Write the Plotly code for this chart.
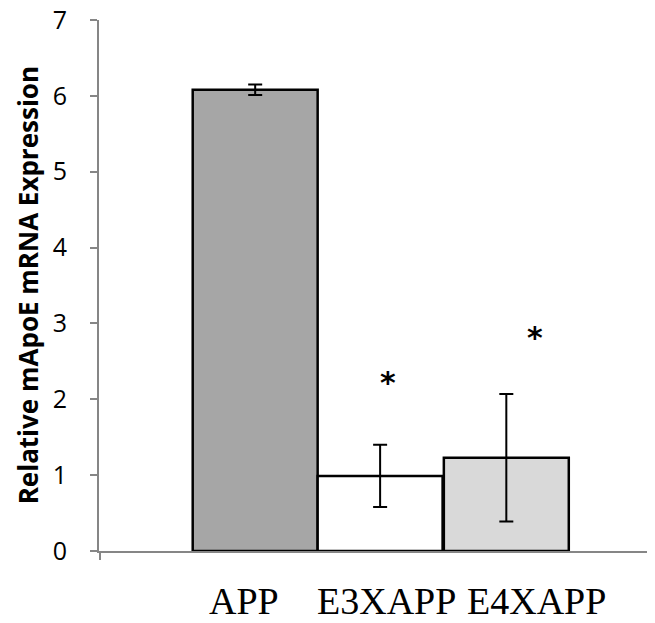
import plotly.graph_objects as go

categories = ["APP", "E3XAPP", "E4XAPP"]
values = [6.08, 0.99, 1.23]
errors = [0.07, 0.41, 0.84]
colors = ["#a6a6a6", "#ffffff", "#d9d9d9"]
bar_x = [1.25, 2.25, 3.26]
label_x = [1.16, 2.30, 3.50]
star_text = ["", "*", "*"]
star_x = [None, 2.31, 3.49]
star_y = [None, 2.22, 2.82]
y_ticks = [0, 1, 2, 3, 4, 5, 6, 7]

fig = go.Figure()
fig.add_trace(go.Bar(
    x=bar_x, y=values, width=1.0,
    marker=dict(color=colors, line=dict(color="black", width=2.5)),
    error_y=dict(type="data", array=errors, visible=True, color="black", thickness=2, width=7),
    showlegend=False,
))

for t, sx, sy in zip(star_text, star_x, star_y):
    if t:
        fig.add_annotation(x=sx, y=sy, text="<b>" + t + "</b>", showarrow=False,
                           font=dict(family="DejaVu Sans", size=30, color="black"))

for c, lx in zip(categories, label_x):
    fig.add_annotation(x=lx, y=-0.0945, xref="x", yref="paper", text=c, showarrow=False,
                       xanchor="center", yanchor="middle",
                       font=dict(family="Liberation Serif", size=38, color="black"))

fig.add_annotation(x=-0.128, y=0.5, xref="paper", yref="paper",
                   xanchor="center", yanchor="middle",
                   text="<b>Relative mApoE mRNA Expression</b>", textangle=-90,
                   showarrow=False, font=dict(family="Open Sans", size=26, color="black"))

fig.update_layout(
    width=647, height=615,
    margin=dict(l=91, r=0, t=12, b=72),
    paper_bgcolor="white", plot_bgcolor="white",
    xaxis=dict(range=[0, 4.45], showgrid=False, zeroline=False, showline=True,
               linecolor="#868686", linewidth=2, tickvals=[0.005], ticktext=[""],
               ticks="outside", ticklen=7, tickcolor="#868686", tickwidth=2,
               automargin=False),
    yaxis=dict(range=[0, 7], tickvals=y_ticks, showgrid=False, zeroline=False,
               showline=True, linecolor="#868686", linewidth=2,
               ticks="outside", ticklen=7, tickcolor="#868686", tickwidth=2,
               ticklabelstandoff=18, automargin=False, ticklabeloverflow="allow",
               tickfont=dict(family="Open Sans", size=25, color="black")),
)

fig.write_html("out.html")
